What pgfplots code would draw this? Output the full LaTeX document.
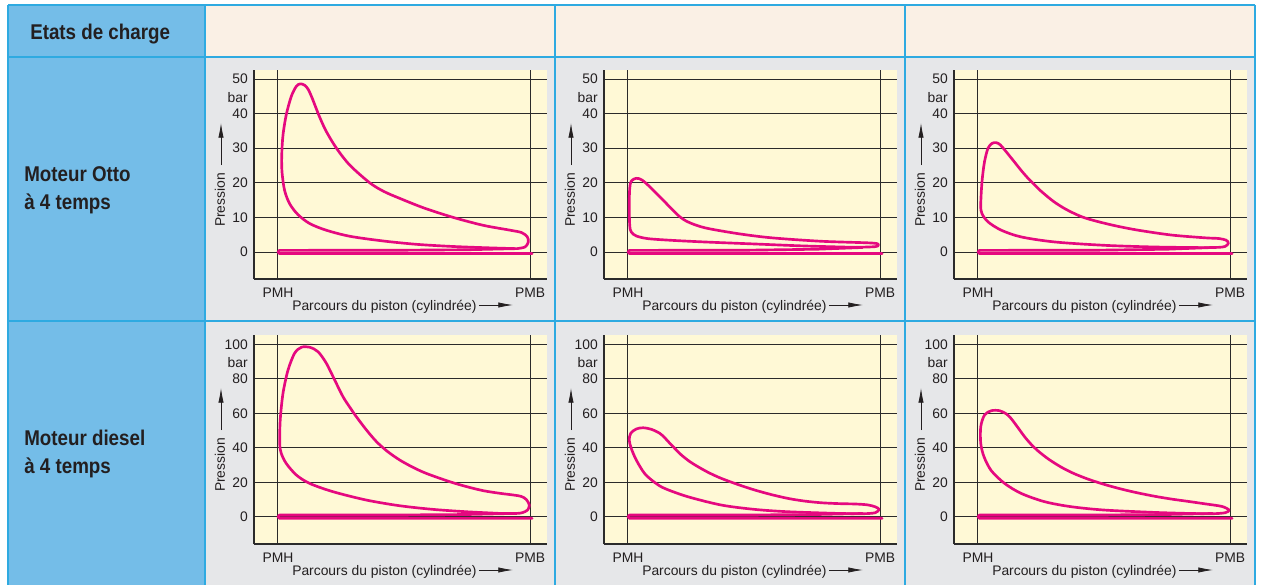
\documentclass[border=0pt]{standalone}
\usepackage{fontspec}
\setmainfont{Liberation Sans}
\newfontfamily\condfont{Liberation Sans}[FakeStretch=0.88]
\usepackage{pgfplots}
\pgfplotsset{compat=1.18}
\usetikzlibrary{arrows.meta}
\definecolor{bluecell}{HTML}{74BDE8}
\definecolor{bordc}{HTML}{2EAAE1}
\definecolor{beige}{HTML}{FAF0E5}
\definecolor{graycell}{HTML}{E6E7E9}
\definecolor{plotbg}{HTML}{FFF9D6}
\definecolor{curvec}{HTML}{E5097F}
\definecolor{gridc}{HTML}{2B2B2B}
\definecolor{txt}{HTML}{231F20}
\newcommand\tl{\fontsize{10.4}{12}\selectfont}
\newcommand\hdr{\condfont\bfseries\fontsize{16}{19}\selectfont}
\tikzset{arrowst/.style={line width=0.6pt, color=txt, -{Latex[length=11pt,width=4pt]}}}
\pgfplotsset{
  pv/.style={
    anchor=north west, scale only axis, width=219.75pt, height=156.75pt,
    xmin=-0.095, xmax=1.067,
    axis x line*=bottom, axis y line*=left,
    axis line style={line width=0.8pt, color=gridc},
    xtick={0,1}, xticklabels={PMH,PMB},
    xmajorgrids, ymajorgrids,
    grid style={line width=0.7pt, color=gridc},
    major tick length=0pt,
    axis background/.style={fill=plotbg},
    tick label style={font=\tl, text=txt},
    yticklabel style={inner sep=0pt, xshift=-4.5pt},
    xticklabel style={anchor=center, inner sep=0pt, yshift=-10.5pt},
    /pgf/number format/assume math mode=true,
    clip=false,
  },
  row1/.style={ymin=-7.8, ymax=52.6, ytick={0,10,20,30,40,50}},
  row2/.style={ymin=-15.8, ymax=105.4, ytick={0,20,40,60,80,100}},
  curve/.style={color=curvec, line width=2pt, line join=round, line cap=round},
}
\newcommand\decor{%
  \node[anchor=east, inner sep=0pt, font=\tl, text=txt] at ([xshift=-4.5pt,yshift=-21pt]rel axis cs:0,1) {bar};
  \node[rotate=90, inner sep=0pt, font=\tl, text=txt] at ([xshift=-25.5pt,yshift=-97.5pt]rel axis cs:0,1) {Pression};
  \draw[arrowst] ([xshift=-24.75pt,yshift=-71.25pt]rel axis cs:0,1) -- ([xshift=-24.75pt,yshift=-39.75pt]rel axis cs:0,1);
  \node[anchor=base west, inner sep=0pt, font=\tl, text=txt] (pc) at ([xshift=28.5pt,yshift=-23.25pt]rel axis cs:0,0) {Parcours du piston (cylindrée)};
  \coordinate (ay) at ([yshift=-19.5pt]rel axis cs:0,0);
  \coordinate (ps) at ([xshift=2pt]pc.east);
  \draw[arrowst] (ps |- ay) -- ([xshift=194.25pt]ay);
}
\begin{document}
\begin{tikzpicture}[x=0.75pt,y=-0.75pt]
\useasboundingbox (0,0) rectangle (1261,585);
\fill[white] (0,0) rectangle (1261,585);
\fill[bluecell] (8,5) rectangle (205,585);
\fill[beige] (205,5) rectangle (1255,57);
\fill[graycell] (205,57) rectangle (1255,585);
\draw[bordc, line width=1.1pt] (8,5) -- (1255,5) (8,57) -- (1255,57) (8,321) -- (1255,321)
  (8,5) -- (8,585) (205,5) -- (205,585) (555,5) -- (555,585) (905,5) -- (905,585) (1255,5) -- (1255,585);
\node[anchor=base west, inner sep=0pt, font=\hdr, text=txt] at (30,40) {Etats de charge};
\node[anchor=base west, inner sep=0pt, font=\hdr, text=txt] at (24,181) {Moteur Otto};
\node[anchor=base west, inner sep=0pt, font=\hdr, text=txt] at (24,209) {à 4 temps};
\node[anchor=base west, inner sep=0pt, font=\hdr, text=txt] at (24,445) {Moteur diesel};
\node[anchor=base west, inner sep=0pt, font=\hdr, text=txt] at (24,473) {à 4 temps};

% Otto, full load
\begin{axis}[pv,row1,at={(190.5pt,-52.5pt)}]
\addplot[curve,sharp plot] coordinates {(0.94,0.97) (0.75,0.65) (0.45,0.5) (0.006,0.48) (0.0,0.0) (0.006,-0.45) (1.008,-0.45)};
\addplot[curve,smooth] coordinates {
(0.947,0.97) (0.815,1.26) (0.682,1.64) (0.550,2.22) (0.417,3.19) (0.285,4.55) (0.192,6.29) (0.126,8.22)
(0.079,10.83) (0.046,14.0) (0.026,17.9) (0.016,23.2) (0.015,28.0) (0.020,33.8) (0.033,39.7) (0.053,45.0)
(0.073,47.9) (0.089,48.6) (0.106,48.2) (0.120,47.0) (0.135,44.6) (0.150,41.8) (0.167,38.7) (0.192,34.8)
(0.232,30.0) (0.285,25.1) (0.364,20.0) (0.420,17.5) (0.483,15.5) (0.580,12.7) (0.695,10.0) (0.815,7.7)
(0.921,6.3) (0.967,5.6) (0.989,4.35) (0.993,2.9) (0.980,1.45) (0.947,0.97)};
\decor
\end{axis}

% Otto, partial load
\begin{axis}[pv,row1,at={(453pt,-52.5pt)}]
\addplot[curve,sharp plot] coordinates {(0.93,1.3) (0.75,0.8) (0.45,0.5) (0.006,0.48) (0.0,0.0) (0.006,-0.45) (1.008,-0.45)};
\addplot[curve,smooth] coordinates {
(0.901,1.35) (0.702,1.74) (0.503,2.32) (0.305,2.90) (0.172,3.38) (0.079,3.87) (0.033,4.64) (0.013,5.80)
(0.007,7.74) (0.005,13.5) (0.007,18.4) (0.013,20.5) (0.033,21.3) (0.056,20.8) (0.093,18.4) (0.146,14.5)
(0.199,10.6) (0.238,8.7) (0.305,7.0) (0.437,5.3) (0.570,4.1) (0.768,3.1) (0.967,2.6) (0.993,2.1)
(0.980,1.55) (0.901,1.35)};
\decor
\end{axis}

% Otto, medium load
\begin{axis}[pv,row1,at={(715.5pt,-52.5pt)}]
\addplot[curve,sharp plot] coordinates {(0.93,1.3) (0.75,0.8) (0.45,0.5) (0.006,0.48) (0.0,0.0) (0.006,-0.45) (1.008,-0.45)};
\addplot[curve,smooth] coordinates {
(0.901,1.26) (0.702,1.45) (0.503,1.93) (0.305,2.90) (0.172,4.35) (0.093,6.29) (0.040,8.70) (0.016,11.1)
(0.011,13.5) (0.016,20.3) (0.026,26.1) (0.040,30.0) (0.056,31.4) (0.073,31.6) (0.088,31.0) (0.105,29.6)
(0.125,27.8) (0.146,25.9) (0.170,23.7) (0.195,21.6) (0.219,19.8) (0.250,17.6) (0.300,14.6) (0.350,12.3)
(0.411,10.2) (0.470,8.9) (0.550,7.5) (0.636,6.3) (0.768,4.9) (0.901,4.1) (0.955,3.9) (0.985,3.4)
(0.993,2.5) (0.980,1.6) (0.954,1.35) (0.901,1.26)};
\decor
\end{axis}

% Diesel, full load
\begin{axis}[pv,row2,at={(190.5pt,-251.25pt)}]
\addplot[curve,sharp plot] coordinates {(0.93,1.9) (0.75,1.3) (0.45,1.0) (0.006,1.0) (0.0,0.0) (0.006,-0.9) (1.008,-0.9)};
\addplot[curve,smooth] coordinates {
(0.881,1.93) (0.748,2.90) (0.616,4.26) (0.483,6.38) (0.351,9.67) (0.219,14.5) (0.126,19.3) (0.073,24.2)
(0.033,30.9) (0.013,36.8) (0.007,42.6) (0.009,56.1) (0.020,71.6) (0.040,85.1) (0.066,94.8) (0.093,98.3)
(0.126,98.3) (0.159,95.7) (0.192,89.0) (0.225,79.3) (0.258,69.6) (0.285,63.5) (0.311,58.0) (0.350,50.5)
(0.391,43.5) (0.435,37.8) (0.483,32.9) (0.535,28.7) (0.589,25.1) (0.682,20.3) (0.750,17.4) (0.815,15.1)
(0.880,13.6) (0.934,12.6) (0.965,11.8) (0.985,10.0) (0.997,6.77) (0.990,3.9) (0.970,2.4) (0.947,1.93)
(0.881,1.93)};
\decor
\end{axis}

% Diesel, partial load
\begin{axis}[pv,row2,at={(453pt,-251.25pt)}]
\addplot[curve,sharp plot] coordinates {(0.93,1.9) (0.75,1.3) (0.45,1.0) (0.006,1.0) (0.0,0.0) (0.006,-0.9) (1.008,-0.9)};
\addplot[curve,smooth] coordinates {
(0.834,1.93) (0.636,2.90) (0.503,4.26) (0.371,6.77) (0.238,11.6) (0.146,16.4) (0.106,19.9) (0.066,25.1)
(0.033,32.9) (0.013,39.7) (0.005,44.5) (0.011,48.4) (0.033,50.9) (0.060,51.6) (0.093,50.7) (0.126,48.4)
(0.146,45.8) (0.166,42.6) (0.190,39.0) (0.212,35.8) (0.245,32.0) (0.278,29.0) (0.320,25.6) (0.371,22.2)
(0.440,18.5) (0.503,15.5) (0.570,12.8) (0.636,10.6) (0.700,9.1) (0.768,8.1) (0.840,7.6) (0.901,7.4)
(0.950,6.9) (0.980,5.8) (0.996,4.3) (0.980,2.3) (0.927,1.74) (0.834,1.93)};
\decor
\end{axis}

% Diesel, medium load
\begin{axis}[pv,row2,at={(715.5pt,-251.25pt)}]
\addplot[curve,sharp plot] coordinates {(0.93,1.9) (0.75,1.3) (0.45,1.0) (0.006,1.0) (0.0,0.0) (0.006,-0.9) (1.008,-0.9)};
\addplot[curve,smooth] coordinates {
(0.834,1.93) (0.702,2.51) (0.503,3.87) (0.371,5.80) (0.265,8.70) (0.172,13.5) (0.106,19.3) (0.053,26.7)
(0.024,34.8) (0.011,42.6) (0.011,52.2) (0.026,59.0) (0.053,61.5) (0.086,61.5) (0.113,59.6) (0.130,57.2)
(0.146,54.2) (0.165,50.4) (0.185,46.4) (0.210,42.15) (0.238,38.2) (0.280,33.4) (0.331,28.7) (0.380,25.1)
(0.437,21.8) (0.500,18.8) (0.570,16.0) (0.635,13.8) (0.702,11.85) (0.770,10.2) (0.834,8.9) (0.900,7.5)
(0.967,6.0) (0.996,3.87) (0.980,2.32) (0.927,1.74) (0.834,1.93)};
\decor
\end{axis}
\end{tikzpicture}
\end{document}
